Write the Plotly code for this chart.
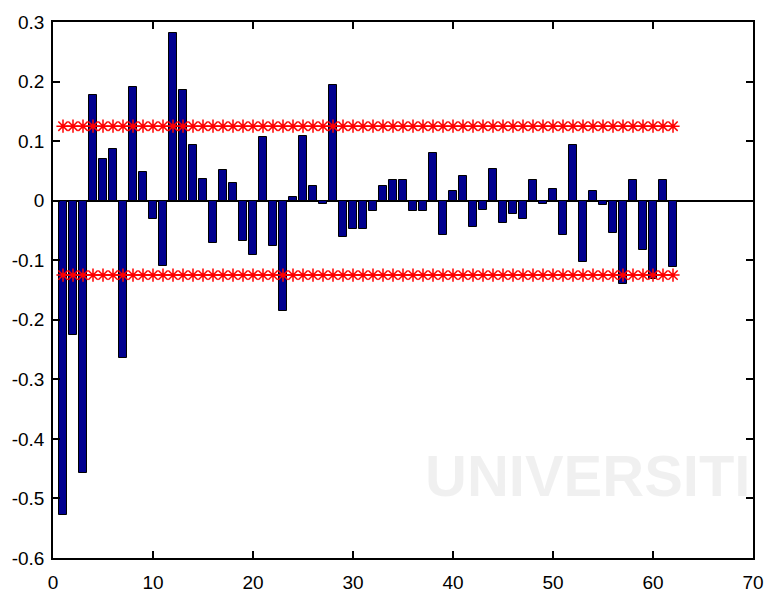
import plotly.graph_objects as go

lags = list(range(1, 63))
acf_values = [
    -0.528, -0.225, -0.457, 0.178, 0.070, 0.086, -0.265, 0.191, 0.048, -0.031,
    -0.110, 0.281, 0.186, 0.094, 0.036, -0.071, 0.052, 0.030, -0.068, -0.091,
    0.107, -0.076, -0.185, 0.007, 0.109, 0.025, -0.005, 0.194, -0.061, -0.047,
    -0.047, -0.018, 0.025, 0.035, 0.035, -0.018, -0.018, 0.080, -0.058, 0.017,
    0.041, -0.045, -0.016, 0.054, -0.037, -0.023, -0.031, 0.035, -0.005, 0.019,
    -0.058, 0.094, -0.103, 0.017, -0.008, -0.055, -0.140, 0.035, -0.082, -0.132,
    0.035, -0.111,
]
upper_bound = [0.125] * len(lags)
lower_bound = [-0.125] * len(lags)

x_ticks = [0, 10, 20, 30, 40, 50, 60, 70]
y_ticks = [0.3, 0.2, 0.1, 0, -0.1, -0.2, -0.3, -0.4, -0.5, -0.6]
y_tick_labels = ["0.3", "0.2", "0.1", "0", "-0.1", "-0.2", "-0.3", "-0.4", "-0.5", "-0.6"]
watermark_text = "UNIVERSITI"

plot_left, plot_right, plot_top, plot_bottom = 52, 764, 13, 573

fig = go.Figure()
fig.add_trace(go.Bar(
    x=lags, y=acf_values, width=0.82,
    marker=dict(color="#00008F", line=dict(color="black", width=1)),
    showlegend=False,
))
for band in (upper_bound, lower_bound):
    fig.add_trace(go.Scatter(
        x=lags, y=band, mode="lines+markers",
        line=dict(color="red", width=1.5),
        marker=dict(symbol="asterisk-open", size=11, color="red",
                    line=dict(color="red", width=1.5)),
        showlegend=False,
    ))

fig.add_annotation(
    x=(428 - plot_left) / (plot_right - plot_left),
    y=(plot_bottom - 487) / (plot_bottom - plot_top),
    xref="paper", yref="paper", xanchor="left", yanchor="middle",
    text="<b>" + watermark_text + "</b>", showarrow=False,
    font=dict(family="Liberation Sans, Arial", size=58,
              color="rgba(0,0,0,0.06)"),
)

axis_common = dict(
    showline=True, linecolor="black", linewidth=1.5, mirror="ticks",
    ticks="inside", ticklen=7, tickwidth=1.5, tickcolor="black",
    showgrid=False,
    tickfont=dict(family="Liberation Sans, Arial", size=19, color="black"),
)
fig.update_layout(
    width=776, height=605,
    margin=dict(l=plot_left, r=776 - plot_right, t=plot_top, b=605 - plot_bottom),
    paper_bgcolor="white", plot_bgcolor="white",
    bargap=0,
    xaxis=dict(range=[0, 70], tickvals=x_ticks, zeroline=False,
               ticklabelstandoff=6, **axis_common),
    yaxis=dict(range=[-0.6, 0.3], tickvals=y_ticks, ticktext=y_tick_labels,
               zeroline=True, zerolinecolor="black", zerolinewidth=1.5,
               ticklabelstandoff=3, **axis_common),
)
fig.write_html("out.html")
